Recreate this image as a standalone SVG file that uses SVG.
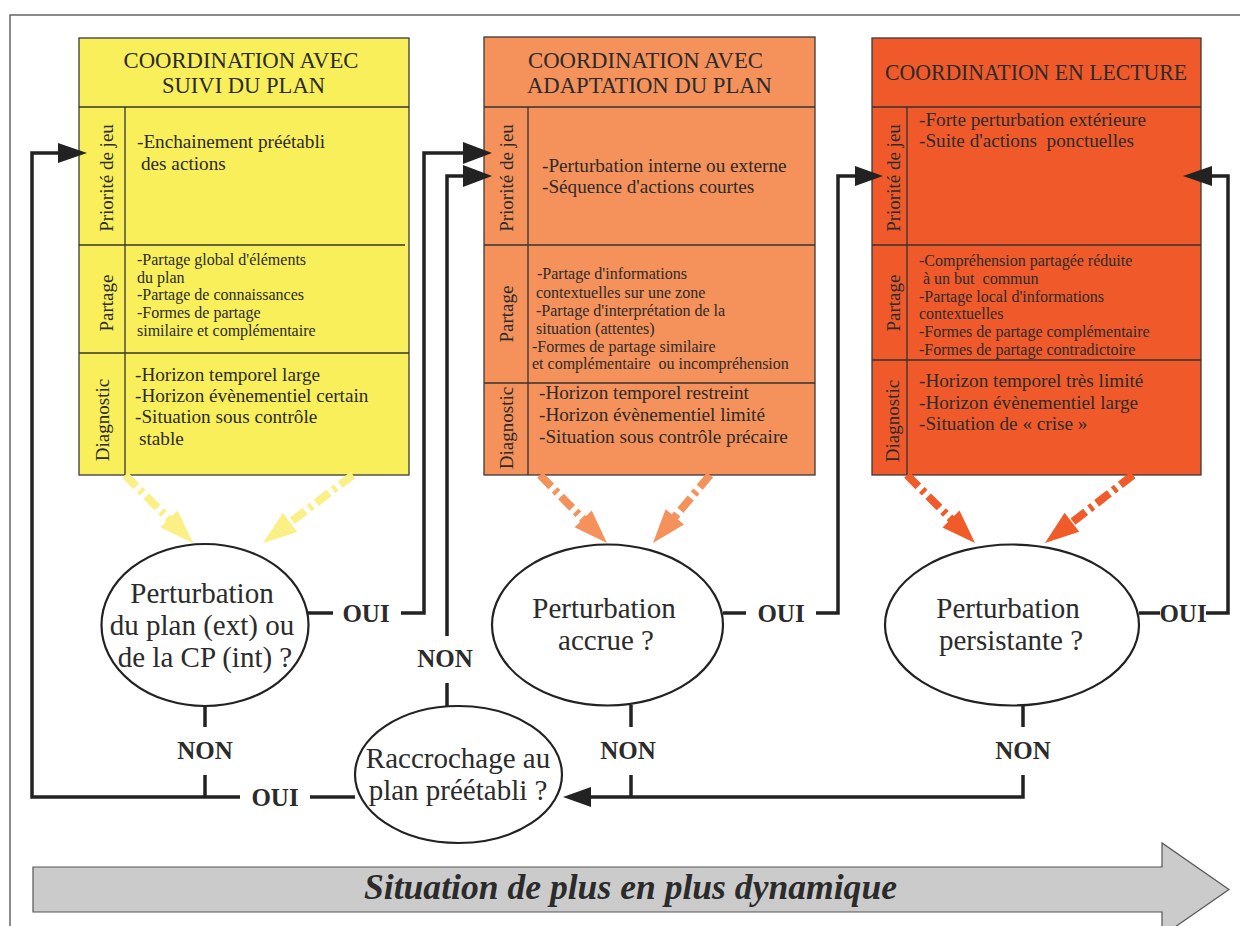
<svg xmlns="http://www.w3.org/2000/svg" width="1240" height="926" viewBox="0 0 1240 926">
<style>
text { font-family: "Liberation Serif", "Times New Roman", serif; fill: #2b2b2b; }
.box { stroke: #3a3a3a; stroke-width: 1.3; }
.sep { stroke: #333; stroke-width: 1.3; fill: none; }
.hdr { font-size: 23px; text-anchor: middle; }
.body { font-size: 19.2px; }
.small { font-size: 16px; }
.lbl { font-size: 19px; text-anchor: middle; }
.q { font-size: 29px; text-anchor: middle; }
.yn { font-size: 25px; font-weight: bold; text-anchor: middle; }
.ell { fill: #fff; stroke: #222; stroke-width: 2.2; }
.conn { fill: none; stroke: #222; stroke-width: 3.5; stroke-linejoin: miter; }
.ah { fill: #222; }
.dash { fill: none; stroke-width: 8; stroke-dasharray: 16 5 4 5; }
</style>

<polyline points="10,926 10,15 1240,15" fill="none" stroke="#666" stroke-width="1.5"/>

<g id="box1">
  <rect class="box" x="79" y="38" width="330" height="437" fill="#F9EF5A"/>
  <line class="sep" x1="79" y1="107" x2="409" y2="107"/>
  <line class="sep" x1="125" y1="107" x2="125" y2="475"/>
  <line class="sep" x1="79" y1="245" x2="405" y2="245"/>
  <line class="sep" x1="79" y1="353" x2="409" y2="353"/>
  <text class="hdr" x="241" y="68" textLength="235" lengthAdjust="spacingAndGlyphs">COORDINATION AVEC</text>
  <text class="hdr" x="243.5" y="93" textLength="163" lengthAdjust="spacingAndGlyphs">SUIVI DU PLAN</text>
  <text class="lbl" transform="translate(113,178) rotate(-90)">Priorité de jeu</text>
  <text class="lbl" transform="translate(113,303) rotate(-90)">Partage</text>
  <text class="lbl" transform="translate(109,420) rotate(-90)">Diagnostic</text>
  <text class="body" x="137" y="148">-Enchainement préétabli</text>
  <text class="body" x="141" y="170">des actions</text>
  <text class="small" x="137" y="265">-Partage global d'éléments</text>
  <text class="small" x="137" y="283">du plan</text>
  <text class="small" x="137" y="300">-Partage de connaissances</text>
  <text class="small" x="137" y="318">-Formes de partage</text>
  <text class="small" x="137" y="336">similaire et complémentaire</text>
  <text class="body" x="135" y="381">-Horizon temporel large</text>
  <text class="body" x="135" y="402">-Horizon évènementiel certain</text>
  <text class="body" x="135" y="423">-Situation sous contrôle</text>
  <text class="body" x="139" y="445">stable</text>
</g>

<g id="box2">
  <rect class="box" x="484" y="37" width="331" height="438" fill="#F5915A"/>
  <line class="sep" x1="484" y1="107" x2="815" y2="107"/>
  <line class="sep" x1="528" y1="107" x2="528" y2="475"/>
  <line class="sep" x1="484" y1="245" x2="815" y2="245"/>
  <line class="sep" x1="484" y1="383" x2="815" y2="383"/>
  <text class="hdr" x="645.5" y="68" textLength="235" lengthAdjust="spacingAndGlyphs">COORDINATION AVEC</text>
  <text class="hdr" x="649.5" y="93" textLength="245" lengthAdjust="spacingAndGlyphs">ADAPTATION DU PLAN</text>
  <text class="lbl" transform="translate(513,178) rotate(-90)">Priorité de jeu</text>
  <text class="lbl" transform="translate(513,314) rotate(-90)">Partage</text>
  <text class="lbl" transform="translate(513,428) rotate(-90)">Diagnostic</text>
  <text class="body" x="542" y="172">-Perturbation interne ou externe</text>
  <text class="body" x="542" y="193">-Séquence d'actions courtes</text>
  <text class="small" x="537" y="279">-Partage d'informations</text>
  <text class="small" x="536" y="298">contextuelles sur une zone</text>
  <text class="small" x="536" y="316">-Partage d'interprétation de la</text>
  <text class="small" x="536" y="334">situation (attentes)</text>
  <text class="small" x="532" y="352">-Formes de partage similaire</text>
  <text class="small" x="532" y="369" xml:space="preserve">et complémentaire  ou incompréhension</text>
  <text class="body" x="539" y="399">-Horizon temporel restreint</text>
  <text class="body" x="539" y="421">-Horizon évènementiel limité</text>
  <text class="body" x="539" y="443">-Situation sous contrôle précaire</text>
</g>

<g id="box3">
  <rect class="box" x="872" y="38" width="329" height="437" fill="#F05A2A"/>
  <line class="sep" x1="872" y1="107" x2="1201" y2="107"/>
  <line class="sep" x1="907" y1="107" x2="907" y2="475"/>
  <line class="sep" x1="872" y1="245" x2="1201" y2="245"/>
  <line class="sep" x1="872" y1="360" x2="1201" y2="360"/>
  <text class="hdr" x="1036" y="80" textLength="302" lengthAdjust="spacingAndGlyphs">COORDINATION EN LECTURE</text>
  <text class="lbl" transform="translate(900,178) rotate(-90)">Priorité de jeu</text>
  <text class="lbl" transform="translate(900,303) rotate(-90)">Partage</text>
  <text class="lbl" transform="translate(899,421) rotate(-90)">Diagnostic</text>
  <text class="body" x="919" y="126">-Forte perturbation extérieure</text>
  <text class="body" x="919" y="147" xml:space="preserve">-Suite d'actions  ponctuelles</text>
  <text class="small" x="919" y="266">-Compréhension partagée réduite</text>
  <text class="small" x="923" y="284" xml:space="preserve">à un but  commun</text>
  <text class="small" x="919" y="302">-Partage local d'informations</text>
  <text class="small" x="919" y="319">contextuelles</text>
  <text class="small" x="919" y="337">-Formes de partage complémentaire</text>
  <text class="small" x="919" y="355">-Formes de partage contradictoire</text>
  <text class="body" x="919" y="387">-Horizon temporel très limité</text>
  <text class="body" x="919" y="409">-Horizon évènementiel large</text>
  <text class="body" x="919" y="430">-Situation de « crise »</text>
</g>

<g id="dashed-arrows">
  <g stroke="#FAF085" fill="#FAF085">
    <line class="dash" x1="125" y1="475" x2="171" y2="521"/>
    <polygon points="193,543 160.5,527.4 177.5,510.5" stroke="none"/>
    <line class="dash" x1="353" y1="475" x2="288" y2="524"/>
    <polygon points="263,543 282.9,512.9 297.3,532.1" stroke="none"/>
  </g>
  <g stroke="#F5915A" fill="#F5915A">
    <line class="dash" x1="540" y1="475" x2="585" y2="521"/>
    <polygon points="607,543 574.6,527.2 591.7,510.4" stroke="none"/>
    <line class="dash" x1="710" y1="475" x2="673" y2="519"/>
    <polygon points="653,543 665.6,509.2 684,524.6" stroke="none"/>
  </g>
  <g stroke="#F15A29" fill="#F15A29">
    <line class="dash" x1="907" y1="475" x2="953" y2="521"/>
    <polygon points="975,543 942.5,527.4 959.5,510.5" stroke="none"/>
    <line class="dash" x1="1133" y1="475" x2="1070" y2="524"/>
    <polygon points="1045,543 1064.6,512.7 1079.2,531.7" stroke="none"/>
  </g>
</g>

<g id="e1">
  <ellipse class="ell" cx="205" cy="625" rx="103.5" ry="81"/>
  <text class="q" x="202" y="603">Perturbation</text>
  <text class="q" x="202" y="635">du plan (ext) ou</text>
  <text class="q" x="205" y="667">de la CP (int) ?</text>
</g>
<g id="e2">
  <ellipse class="ell" cx="607.5" cy="625" rx="115.5" ry="80.5"/>
  <text class="q" x="604" y="618">Perturbation</text>
  <text class="q" x="606" y="650">accrue ?</text>
</g>
<g id="e3">
  <ellipse class="ell" cx="1012" cy="625" rx="127" ry="80.5"/>
  <text class="q" x="1008" y="618">Perturbation</text>
  <text class="q" x="1011" y="650">persistante ?</text>
</g>
<g id="e4">
  <ellipse class="ell" cx="458.5" cy="774.5" rx="103.5" ry="68.5"/>
  <text class="q" x="458" y="768">Raccrochage au</text>
  <text class="q" x="458" y="800">plan préétabli ?</text>
</g>

<g id="connectors">
  <polyline class="conn" points="308,613 333,613"/>
  <polyline class="conn" points="401,613 424,613 424,153 465,153"/>
  <polygon class="ah" points="492,153 463,142 463,164"/>
  <text class="yn" x="366" y="622">OUI</text>

  <polyline class="conn" points="205,706 205,727"/>
  <text class="yn" x="205" y="759">NON</text>
  <polyline class="conn" points="205,775 205,797"/>
  <polyline class="conn" points="240,797 32,797 32,153 60,153"/>
  <polygon class="ah" points="87,153 58,143 58,163"/>
  <polyline class="conn" points="310,797 355,797"/>
  <text class="yn" x="275" y="806">OUI</text>

  <polyline class="conn" points="447,706 447,683"/>
  <text class="yn" x="445" y="667">NON</text>
  <polyline class="conn" points="447,636 447,176 465,176"/>
  <polygon class="ah" points="492,176 463,165 463,187"/>

  <polyline class="conn" points="723,613 746,613"/>
  <text class="yn" x="781" y="622">OUI</text>
  <polyline class="conn" points="816,613 838,613 838,176 857,176"/>
  <polygon class="ah" points="883,176 855,166 855,186"/>

  <polyline class="conn" points="631,705 631,727"/>
  <text class="yn" x="628" y="759">NON</text>
  <polyline class="conn" points="631,775 631,797"/>

  <polyline class="conn" points="1139,613 1160,613"/>
  <text class="yn" x="1183" y="622">OUI</text>
  <polyline class="conn" points="1206,613 1228,613 1228,176 1210,176"/>
  <polygon class="ah" points="1183,176 1212,166 1212,186"/>

  <polyline class="conn" points="1023,705 1023,727"/>
  <text class="yn" x="1023" y="759">NON</text>
  <polyline class="conn" points="1023,775 1023,797 589,797"/>
  <polygon class="ah" points="563,797 591,787 591,807"/>
</g>

<g id="bottom-arrow">
  <polygon points="33,867 1162,867 1162,843 1229,889.5 1162,936 1162,912 33,912" fill="#CBCBCB" stroke="#555" stroke-width="1.2"/>
  <text x="630.5" y="899" font-size="35" font-weight="bold" font-style="italic" text-anchor="middle" textLength="533" lengthAdjust="spacingAndGlyphs">Situation de plus en plus dynamique</text>
</g>
</svg>
